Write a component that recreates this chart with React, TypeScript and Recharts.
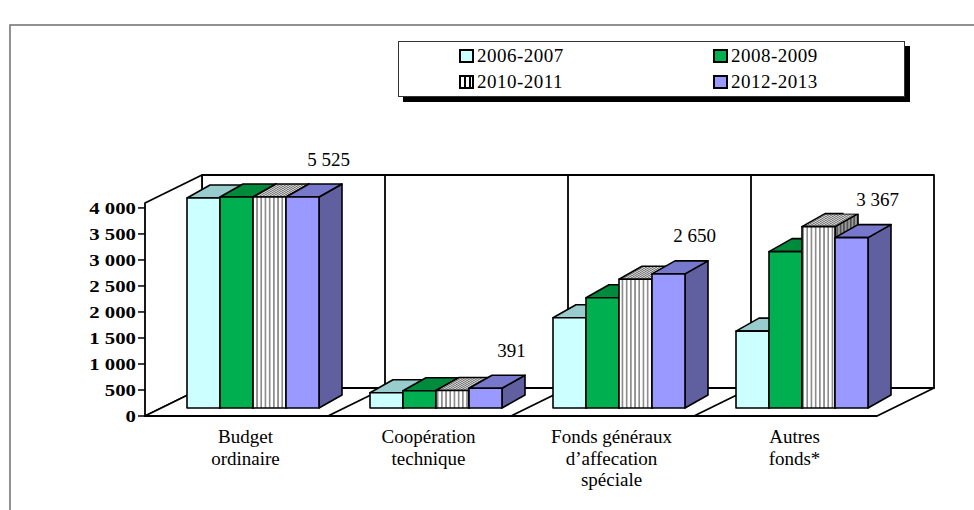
import React from 'react';
import { BarChart, Bar, XAxis, YAxis, LabelList } from 'recharts';

// ---- data -------------------------------------------------------------
const CATEGORIES = [
  'Budget\nordinaire',
  'Coopération\ntechnique',
  'Fonds généraux\nd’affecation\nspéciale',
  'Autres\nfonds*',
];
const SERIES_NAMES = ['2006-2007', '2008-2009', '2010-2011', '2012-2013'];
const VALUES_2006_2007 = [4150, 300, 1785, 1520];
const VALUES_2008_2009 = [4800, 340, 2180, 3090];
const VALUES_2010_2011 = [5150, 345, 2545, 3585];
const VALUES_2012_2013 = [5525, 391, 2650, 3367];
const Y_TICKS = [0, 500, 1000, 1500, 2000, 2500, 3000, 3500, 4000];
const AXIS_MAX = 4170;

const SERIES_VALUES = [VALUES_2006_2007, VALUES_2008_2009, VALUES_2010_2011, VALUES_2012_2013];

const rows = CATEGORIES.map((category, i) => ({
  category,
  values: SERIES_VALUES.map((s) => s[i]),
}));

// ---- layout ------------------------------------------------------------
const W = 974;
const H = 510;
const PLOT_LEFT = 162;
const PLOT_RIGHT = 894;
const PLOT_TOP = 197;
const PLOT_BOTTOM = 408;
const Y_AXIS_W = 60;
const X_AXIS_H = 30;

// oblique projection of the box around the bars
const FRONT_DX = -17;
const FRONT_DY = 8;
const BACK_DX = 40;
const BACK_DY = -20;
const WALL_TOP_BACK = 175;
const WALL_TOP_FRONT = 203;
const PERSPECTIVE = 1.028; // front plane is slightly larger than the bar plane

const BAR_DEPTH_X = 23;
const BAR_DEPTH_Y = 13;

const LABEL_DX = 26;
const LABEL_DY = -38;

const SERIF = '"Liberation Serif", "Times New Roman", Times, serif';

const LOOKS = [
  { front: '#CCFFFF', top: '#99CCCC', side: '#6FA3A3', swatch: '#CCFFFF' },
  { front: '#00B050', top: '#008A3C', side: '#006B2E', swatch: '#00B050' },
  { front: 'url(#stripeFront)', top: 'url(#stripeTop)', side: 'url(#stripeSide)', swatch: 'repeating-linear-gradient(90deg, #fff 0 3px, #000 3px 5px)' },
  { front: '#9999FF', top: '#7777CC', side: '#6060A0', swatch: '#9999FF' },
];

const fmt = (v: number) => String(v).replace(/\B(?=(\d{3})+(?!\d))/g, ' ');

// ---- pieces ------------------------------------------------------------
function Bar3D(props: any) {
  const { x, y, width, height, look } = props;
  if (x == null || y == null) return null;
  const dx = BAR_DEPTH_X;
  const dy = BAR_DEPTH_Y;
  const front = `M${x},${y}h${width}v${height}h${-width}Z`;
  const top = `M${x},${y}l${dx},${-dy}h${width}l${-dx},${dy}Z`;
  const side = `M${x + width},${y}l${dx},${-dy}v${height}l${-dx},${dy}Z`;
  return (
    <g stroke="#000" strokeWidth={1.6} strokeLinejoin="round">
      <path d={side} fill={look.side} />
      <path d={top} fill={look.top} />
      <path d={front} fill={look.front} />
    </g>
  );
}

function YTick(props: any) {
  const { y, payload } = props;
  const axisX = PLOT_LEFT + FRONT_DX;
  const fy = PLOT_BOTTOM + FRONT_DY - (PLOT_BOTTOM - y) * PERSPECTIVE;
  return (
    <g>
      <line x1={axisX - 7} x2={axisX} y1={fy} y2={fy} stroke="#000" strokeWidth={1.5} />
      <text
        transform={`translate(${axisX - 9},${fy}) scale(1.3,1)`}
        textAnchor="end"
        dominantBaseline="central"
        fontFamily={SERIF}
        fontWeight="bold"
        fontSize={16}
        fill="#000"
      >
        {fmt(payload.value)}
      </text>
    </g>
  );
}

function XTick(props: any) {
  const { x, payload } = props;
  const lines = String(payload.value).split('\n');
  return (
    <g>
      {lines.map((line, i) => (
        <text
          key={i}
          x={x - 8}
          y={PLOT_BOTTOM + 35 + i * 21.5}
          textAnchor="middle"
          fontFamily={SERIF}
          fontSize={19}
          fill="#000"
        >
          {line}
        </text>
      ))}
    </g>
  );
}

function ValueLabel(props: any) {
  const { x, y, width, index } = props;
  const v = VALUES_2012_2013[index];
  const cx = x + width / 2 + LABEL_DX;
  const cy = y + LABEL_DY;
  return (
    <g>
      <rect x={cx - 34} y={cy - 14} width={68} height={28} fill="#fff" />
      <text x={cx} y={cy} textAnchor="middle" dominantBaseline="central" fontFamily={SERIF} fontSize={19} fill="#000">
        {fmt(v)}
      </text>
    </g>
  );
}

function Backdrop() {
  const n = CATEGORIES.length;
  const band = (PLOT_RIGHT - PLOT_LEFT) / n;
  const fL = PLOT_LEFT + FRONT_DX;
  const fR = PLOT_RIGHT + FRONT_DX;
  const fB = PLOT_BOTTOM + FRONT_DY;
  const bL = PLOT_LEFT + BACK_DX;
  const bR = PLOT_RIGHT + BACK_DX;
  const bB = PLOT_BOTTOM + BACK_DY;
  const stroke = { stroke: '#000', strokeWidth: 1.8, strokeLinejoin: 'round' as const };
  const dividers = Array.from({ length: n - 1 }, (_, k) => k + 1);
  return (
    <svg width={W} height={H} style={{ position: 'absolute', left: 0, top: 0 }}>
      <defs>
        <pattern id="stripeFront" width="4.2" height="10" patternUnits="userSpaceOnUse">
          <rect width="4.2" height="10" fill="#fff" />
          <rect width="1.7" height="10" fill="#8c8c8c" />
        </pattern>
        <pattern id="stripeTop" width="3.4" height="10" patternUnits="userSpaceOnUse" patternTransform="skewX(-60)">
          <rect width="3.4" height="10" fill="#d0d0d0" />
          <rect width="1.5" height="10" fill="#6e6e6e" />
        </pattern>
        <pattern id="stripeSide" width="3.4" height="10" patternUnits="userSpaceOnUse">
          <rect width="3.4" height="10" fill="#9a9a9a" />
          <rect width="1.5" height="10" fill="#4a4a4a" />
        </pattern>
      </defs>
      <rect x={0} y={0} width={W} height={H} fill="#fff" />
      <rect x={10} y={25} width={1100} height={700} fill="none" stroke="#777" strokeWidth={1.6} />
      {/* back wall */}
      <rect x={bL} y={WALL_TOP_BACK} width={bR - bL} height={bB - WALL_TOP_BACK} fill="#fff" {...stroke} />
      {dividers.map((k) => (
        <line key={`bw${k}`} x1={bL + k * band} x2={bL + k * band} y1={WALL_TOP_BACK} y2={bB} {...stroke} />
      ))}
      {/* side wall */}
      <polygon points={`${fL},${fB} ${fL},${WALL_TOP_FRONT} ${bL},${WALL_TOP_BACK} ${bL},${bB}`} fill="#fff" {...stroke} />
      {/* floor */}
      <polygon points={`${fL},${fB} ${fR},${fB} ${bR},${bB} ${bL},${bB}`} fill="#fff" {...stroke} />
      {dividers.map((k) => (
        <line key={`fl${k}`} x1={fL + k * band} y1={fB} x2={bL + k * band} y2={bB} {...stroke} />
      ))}
    </svg>
  );
}

function LegendBox() {
  return (
    <div
      style={{
        position: 'absolute',
        left: 398,
        top: 41,
        width: 507,
        height: 56,
        boxSizing: 'border-box',
        border: '1px solid #333',
        background: '#fff',
        boxShadow: '5px 5px 0 #000',
        fontFamily: SERIF,
        fontSize: 19,
        letterSpacing: 0.5,
      }}
    >
      {SERIES_NAMES.map((name, i) => {
        const col = i % 2;
        const row = Math.floor(i / 2);
        return (
          <div
            key={name}
            style={{
              position: 'absolute',
              left: col ? 314 : 60,
              top: row ? 27 : 1,
              height: 26,
              display: 'flex',
              alignItems: 'center',
              whiteSpace: 'nowrap',
            }}
          >
            <span
              style={{
                display: 'inline-block',
                width: 11,
                height: 10,
                border: '2px solid #000',
                background: LOOKS[i].swatch,
              }}
            />
            <span style={{ marginLeft: 3 }}>{name}</span>
          </div>
        );
      })}
    </div>
  );
}

export default function App() {
  return (
    <div style={{ position: 'absolute', left: 0, top: 0, width: W, height: H, overflow: 'hidden', background: '#fff' }}>
      <Backdrop />
      <div style={{ position: 'absolute', left: 0, top: 0 }}>
        <BarChart
          width={W}
          height={H}
          data={rows}
          margin={{
            top: PLOT_TOP,
            right: W - PLOT_RIGHT,
            bottom: H - PLOT_BOTTOM - X_AXIS_H,
            left: PLOT_LEFT - Y_AXIS_W,
          }}
          barCategoryGap={25}
          barGap={0}
        >
          <XAxis dataKey="category" height={X_AXIS_H} axisLine={false} tickLine={false} tick={<XTick />} interval={0} />
          <YAxis
            type="number"
            width={Y_AXIS_W}
            domain={[0, AXIS_MAX]}
            ticks={Y_TICKS}
            axisLine={false}
            tickLine={false}
            tick={<YTick />}
            interval={0}
          />
          {SERIES_NAMES.map((name, i) => (
            <Bar
              key={name}
              name={name}
              dataKey={(row: any) => Math.min(row.values[i], AXIS_MAX)}
              isAnimationActive={false}
              shape={(p: any) => <Bar3D {...p} look={LOOKS[i]} />}
            >
              {i === SERIES_NAMES.length - 1 ? <LabelList content={<ValueLabel />} /> : null}
            </Bar>
          ))}
        </BarChart>
      </div>
      <LegendBox />
    </div>
  );
}
